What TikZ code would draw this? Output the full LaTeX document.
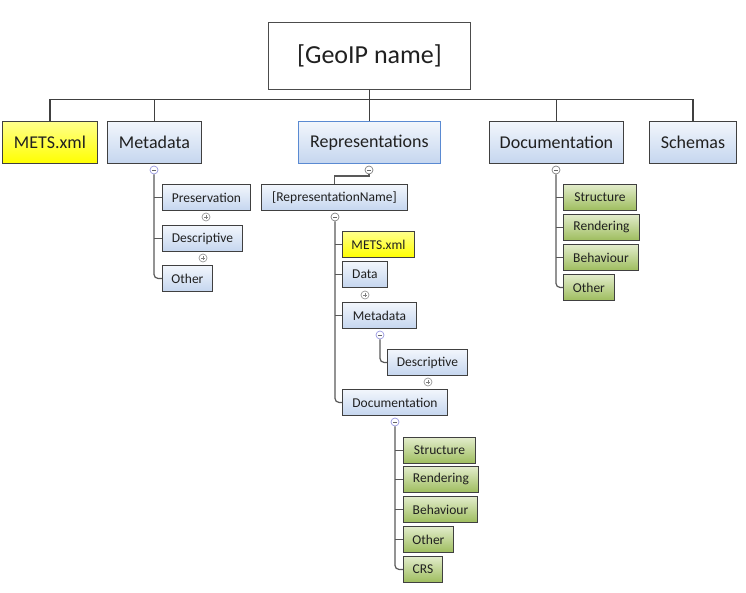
\documentclass[tikz,border=0pt]{standalone}
\usepackage{fontspec}
\setmainfont{Carlito}
\definecolor{bTop}{HTML}{F2F6FC}
\definecolor{bBot}{HTML}{C5D6EF}
\definecolor{gTop}{HTML}{E2ECCB}
\definecolor{gBot}{HTML}{9EBD5E}
\definecolor{yTop}{HTML}{FFFF8C}
\definecolor{yBot}{HTML}{FFFF00}
\definecolor{repBorder}{HTML}{5A8AD2}
\definecolor{txt}{HTML}{202020}
\tikzset{
  boxbase/.style={draw=black!75, line width=0.9pt, anchor=north west, inner sep=0pt, text=txt},
  bigbox/.style={boxbase, minimum height=42pt, font=\fontsize{18}{20}\selectfont},
  smallbox/.style={boxbase, minimum height=26pt, font=\fontsize{13.5}{15}\selectfont},
  bluefill/.style={top color=bTop, bottom color=bBot},
  greenfill/.style={top color=gTop, bottom color=gBot},
  yellowfill/.style={top color=yTop, bottom color=yBot},
  busline/.style={draw=black!75, line width=1.2pt},
  treeline/.style={draw=black!65, line width=1.2pt, rounded corners=4pt},
  togglebase/.style={circle, draw=black!50, fill=white, minimum size=8pt, inner sep=0pt, line width=0.7pt},
  minustog/.style={togglebase, path picture={\draw[line width=0.7pt,black!60] ([xshift=-2pt]path picture bounding box.center) -- ([xshift=2pt]path picture bounding box.center);}},
  plustog/.style={togglebase, draw=black!40, path picture={\draw[line width=0.6pt,black!50] ([xshift=-2pt]path picture bounding box.center) -- ([xshift=2pt]path picture bounding box.center) ([yshift=-2pt]path picture bounding box.center) -- ([yshift=2pt]path picture bounding box.center);}},
}
\begin{document}
\begin{tikzpicture}[x=1pt,y=-1pt]
\useasboundingbox (0,0) rectangle (746,593);
% root
\node[boxbase, draw=black!70, fill=white, minimum width=202pt, minimum height=67pt, font=\fontsize{26}{28}\selectfont] (root) at (268,22) {[GeoIP name]};
% top row
\node[bigbox, yellowfill, minimum width=95pt] (mets1) at (2,121) {METS.xml};
\node[bigbox, bluefill, minimum width=94pt] (meta1) at (107,121) {Metadata};
\node[bigbox, bluefill, draw=repBorder, minimum width=142pt] (reps) at (298,121) {Representations};
\node[bigbox, bluefill, minimum width=134pt] (doc1) at (489,121) {Documentation};
\node[bigbox, bluefill, minimum width=87pt] (schemas) at (649,121) {Schemas};
% bus
\foreach \n in {mets1,meta1,reps,doc1,schemas}
  \draw[busline] (root.south) -- ++(0,9.5) -| (\n.north);
% metadata children
\node[smallbox, bluefill, minimum width=88pt] (pres) at (162,184) {Preservation};
\node[smallbox, bluefill, minimum width=80pt] (desc1) at (162,225) {Descriptive};
\node[smallbox, bluefill, minimum width=50pt] (oth1) at (162,265) {Other};
\node[minustog, draw=black!30!blue!40] (t1) at (154,170) {};
\node[plustog] (p1) at (206,217) {};
\node[plustog] (p2) at (203,258) {};
\draw[treeline] (t1.south) |- (oth1.west);
\draw[treeline] (t1.south |- pres.west) -- (pres.west);
\draw[treeline] (t1.south |- desc1.west) -- (desc1.west);
% representations children
\node[smallbox, bluefill, minimum width=146pt] (repname) at (261,184) {[RepresentationName]};
\node[minustog] (t2) at (369,170) {};
\draw[treeline, rounded corners=0pt] (t2.south) |- (repname.north |- 0,176) -- (repname.north);
\node[smallbox, yellowfill, minimum width=72pt] (mets2) at (342,231) {METS.xml};
\node[smallbox, bluefill, minimum width=45pt] (data) at (342,261) {Data};
\node[smallbox, bluefill, minimum width=74pt] (meta2) at (342,302) {Metadata};
\node[smallbox, bluefill, minimum width=80pt] (desc2) at (387,349) {Descriptive};
\node[smallbox, bluefill, minimum width=105pt] (doc2) at (342,389) {Documentation};
\node[minustog] (t3) at (335,217) {};
\node[plustog] (p3) at (365,295) {};
\node[minustog, draw=black!30!blue!40] (t4) at (380,335) {};
\node[plustog] (p4) at (428,382) {};
\draw[treeline] (t3.south) |- (doc2.west);
\foreach \n in {mets2,data,meta2}
  \draw[treeline] (t3.south |- \n.west) -- (\n.west);
\draw[treeline] (t4.south) |- (desc2.west);
% rep documentation children
\node[smallbox, greenfill, minimum width=72pt] (str2) at (403,437) {Structure};
\node[smallbox, greenfill, minimum width=75pt] (ren2) at (403,466) {Rendering};
\node[smallbox, greenfill, minimum width=74pt] (beh2) at (403,496) {Behaviour};
\node[smallbox, greenfill, minimum width=50pt] (oth2) at (403,526) {Other};
\node[smallbox, greenfill, minimum width=39pt] (crs) at (403,556) {CRS};
\node[minustog, draw=black!30!blue!40] (t5) at (395,422) {};
\draw[treeline] (t5.south) |- (crs.west);
\foreach \n in {str2,ren2,beh2,oth2}
  \draw[treeline] (t5.south |- \n.west) -- (\n.west);
% top documentation children
\node[smallbox, greenfill, minimum width=73pt] (str1) at (563,184) {Structure};
\node[smallbox, greenfill, minimum width=76pt] (ren1) at (563,214) {Rendering};
\node[smallbox, greenfill, minimum width=75pt] (beh1) at (563,244) {Behaviour};
\node[smallbox, greenfill, minimum width=51pt] (oth1b) at (563,274) {Other};
\node[minustog] (t6) at (556,170) {};
\draw[treeline] (t6.south) |- (oth1b.west);
\foreach \n in {str1,ren1,beh1}
  \draw[treeline] (t6.south |- \n.west) -- (\n.west);
\end{tikzpicture}
\end{document}
